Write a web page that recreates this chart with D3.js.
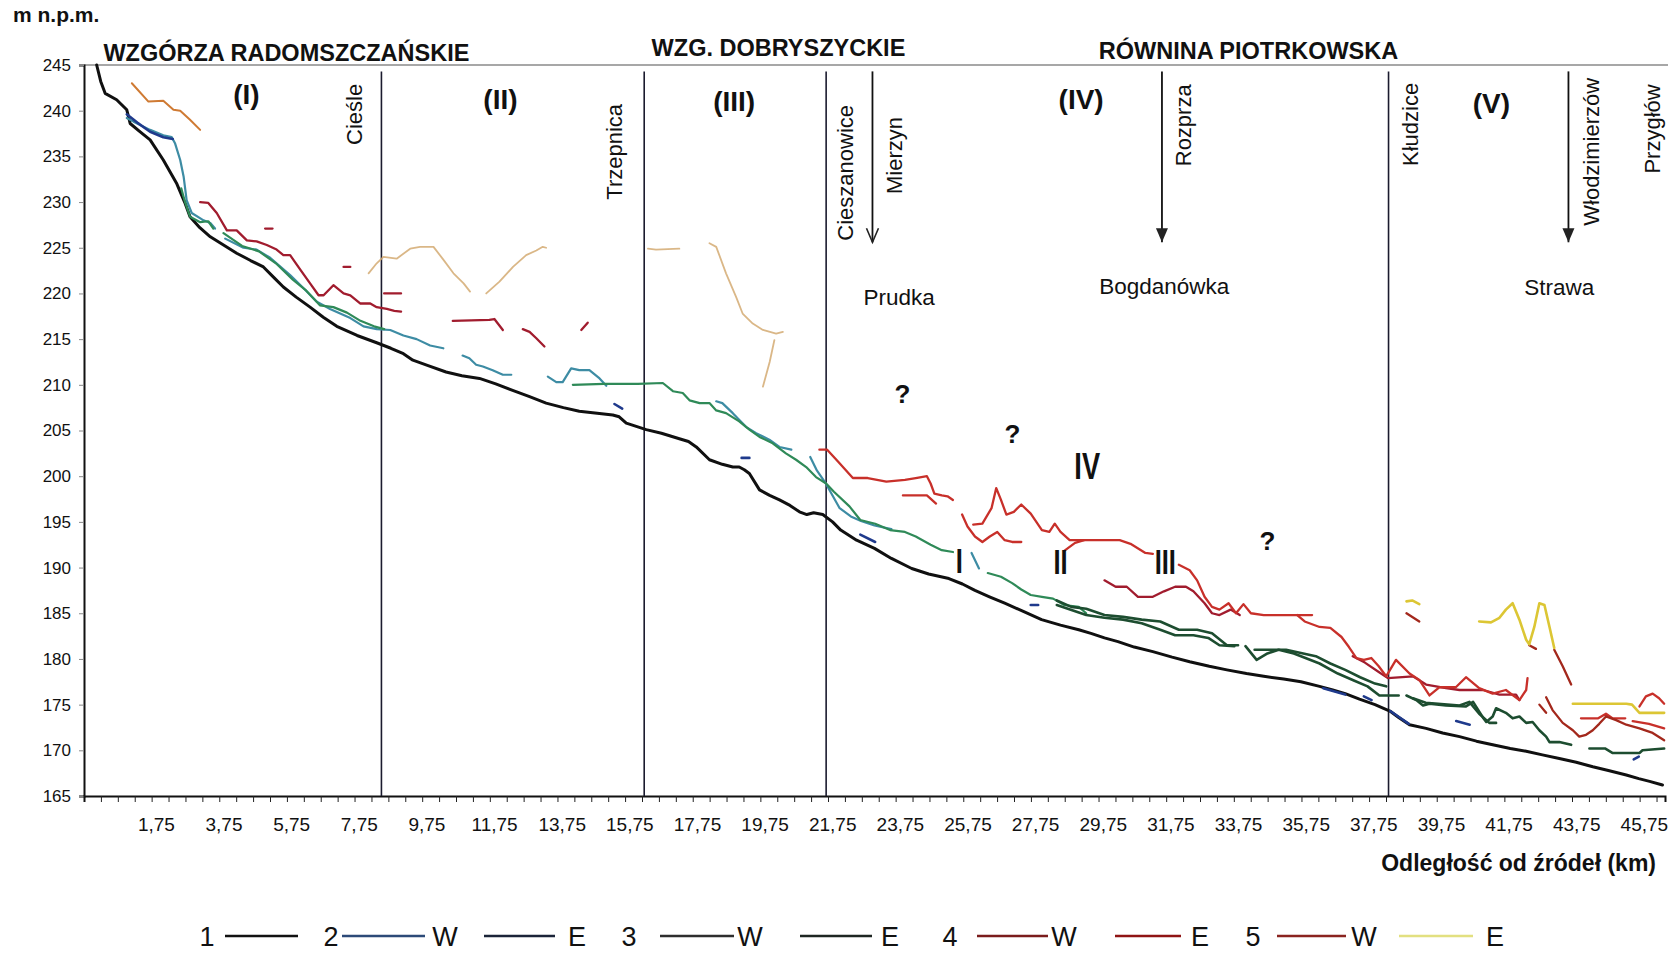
<!DOCTYPE html>
<html>
<head>
<meta charset="utf-8">
<script src="https://cdn.jsdelivr.net/npm/d3@7"></script>
<style>
  body { margin: 0; background: #fff; }
  svg { display: block; }
  text { font-family: "Liberation Sans", Arial, sans-serif; fill: #111; }
</style>
</head>
<body>
<svg id="chart" width="1668" height="953"></svg>
<script>
// ---- Axis ticks ----------------------------------------------------------
const yTicks = [165, 170, 175, 180, 185, 190, 195, 200, 205, 210, 215, 220, 225, 230, 235, 240, 245];
const xTickValues = [1.75, 3.75, 5.75, 7.75, 9.75, 11.75, 13.75, 15.75, 17.75, 19.75, 21.75, 23.75,
                     25.75, 27.75, 29.75, 31.75, 33.75, 35.75, 37.75, 39.75, 41.75, 43.75, 45.75];
const xTickLabels = ["1,75", "3,75", "5,75", "7,75", "9,75", "11,75", "13,75", "15,75", "17,75", "19,75",
                     "21,75", "23,75", "25,75", "27,75", "29,75", "31,75", "33,75", "35,75", "37,75",
                     "39,75", "41,75", "43,75", "45,75"];

// ---- 1: river bed profile [km from source, m a.s.l.] ---------------------
const profile = [[0.0,245.0],[0.12,243.2],[0.25,241.9],[0.59,241.2],[0.89,240.1],[0.99,238.6],[1.25,237.8],
  [1.58,236.8],[1.97,234.6],[2.37,232.0],[2.6,230.0],[2.76,228.4],[3.05,227.2],[3.36,226.2],[3.75,225.3],
  [4.14,224.4],[4.55,223.6],[4.93,222.9],[5.25,221.7],[5.52,220.7],[5.9,219.6],[6.31,218.5],[6.7,217.4],
  [7.1,216.4],[7.7,215.4],[8.28,214.6],[8.7,214.0],[9.07,213.4],[9.35,212.7],[9.8,212.1],[10.33,211.4],
  [10.8,211.0],[11.32,210.7],[11.8,210.1],[12.3,209.4],[12.8,208.7],[13.29,208.0],[13.8,207.5],[14.27,207.1],
  [14.8,206.9],[15.26,206.7],[15.45,206.5],[15.66,205.8],[16.25,205.1],[16.7,204.7],[17.23,204.1],[17.5,203.8],
  [17.73,203.2],[18.12,201.8],[18.5,201.3],[18.81,201.0],[19.0,201.0],[19.15,200.7],[19.3,200.3],[19.6,198.5],
  [19.9,197.9],[20.19,197.4],[20.5,196.8],[20.78,196.1],[21.0,195.8],[21.2,196.0],[21.47,195.8],[21.76,195.0],
  [22.0,194.1],[22.47,193.0],[23.0,192.1],[23.5,191.0],[24.1,189.9],[24.6,189.3],[25.2,188.8],[25.6,188.2],
  [25.97,187.5],[26.4,186.8],[26.85,186.1],[27.4,185.2],[27.94,184.3],[28.5,183.7],[29.04,183.2],[29.4,182.8],
  [29.8,182.3],[30.2,181.9],[30.68,181.3],[31.23,180.8],[31.8,180.2],[32.32,179.7],[32.9,179.2],[33.42,178.8],
  [34.0,178.4],[34.51,178.1],[35.1,177.8],[35.61,177.5],[36.16,177.0],[36.55,176.6],[36.92,176.2],[37.34,175.6],
  [37.8,175.0],[38.24,174.3],[38.5,173.6],[38.82,172.8],[39.31,172.4],[39.8,171.9],[40.3,171.5],[40.8,171.0],
  [41.28,170.6],[41.8,170.2],[42.27,169.9],[42.75,169.5],[43.25,169.1],[43.75,168.7],[44.24,168.2],[44.7,167.8],
  [45.23,167.3],[45.6,166.9],[45.92,166.6],[46.3,166.2]];

// ---- 2: floodplain, W and E banks (segments) ------------------------------
const t2W = [
  [[0.89,239.2],[1.09,238.8],[1.58,237.9],[1.97,237.3],[2.22,237.1],[2.32,236.4],[2.47,234.6],[2.57,232.8],
   [2.66,230.2],[2.81,228.8],[3.16,228.0],[3.36,227.7],[3.5,227.1]],
  [[3.8,226.0],[4.34,225.0],[4.73,224.8],[5.13,223.9],[5.72,222.0],[6.11,220.6],[6.51,219.1],[6.9,218.3],
   [7.5,217.3],[7.89,216.4],[8.28,216.1],[8.68,216.0],[9.07,215.4],[9.46,215.0],[9.86,214.3],[10.25,214.0]],
  [[10.82,213.2],[11.02,212.9],[11.22,212.2],[11.42,212.0],[11.71,211.6],[12.01,211.1],[12.26,211.1]],
  [[13.34,210.9],[13.59,210.3],[13.78,210.3],[14.03,211.8],[14.27,211.6],[14.57,211.6],[14.87,210.7],[15.07,209.9]],
  [[18.32,208.2],[18.5,208.0],[18.81,206.9],[19.2,205.4],[19.5,204.7],[19.89,204.0],[20.19,203.2],[20.54,202.9]],
  [[21.1,202.1],[21.3,200.6],[21.56,199.2],[21.97,196.5],[22.3,195.6],[22.6,195.1],[23.0,194.6],[23.5,194.2]],
  [[25.87,191.6],[26.09,189.9]]
];
const t2E = [
  [[0.89,239.6],[1.2,238.7],[1.58,237.7],[1.97,237.1],[2.25,236.9]],
  [[15.31,207.9],[15.54,207.4]],
  [[19.07,202.0],[19.3,202.0]],
  [[22.58,193.6],[23.02,192.8]],
  [[27.62,185.9],[27.84,185.9]],
  [[36.27,176.8],[36.92,176.1]],
  [[37.47,175.9],[37.7,175.5]],
  [[38.25,174.3],[38.8,172.9]],
  [[40.2,173.2],[40.6,172.8]],
  [[45.45,169.0],[45.6,169.3]]
];

// ---- 3: terrace 3, W and E banks ----------------------------------------
const t3W = [
  [[2.5,231.5],[2.62,229.9],[2.76,228.4],[3.06,227.8],[3.3,227.9],[3.45,227.1]],
  [[3.75,226.6],[4.3,225.2],[4.8,224.6],[5.3,223.3],[5.8,221.5],[6.2,220.3],[6.6,218.7],[7.0,218.5],
   [7.4,217.9],[7.8,217.0],[8.2,216.4],[8.5,216.1]],
  [[14.08,210.0],[15.0,210.1],[16.0,210.1],[16.74,210.2],[17.04,209.3],[17.33,209.1],[17.53,208.3],[17.83,208.0],
   [18.12,208.0],[18.32,207.2],[18.61,206.9],[19.0,206.0],[19.3,205.1],[19.6,204.3],[19.99,203.6],[20.38,202.5],
   [20.68,201.8],[20.98,201.0],[21.27,199.9],[21.57,199.2],[21.8,198.3],[22.26,196.7],[22.58,195.2],[23.02,194.8],
   [23.46,194.1],[23.9,193.9],[24.22,193.4],[24.66,192.5],[24.99,191.9],[25.32,191.7]],
  [[26.35,189.4],[26.74,189.0],[27.07,188.3],[27.34,187.6],[27.62,187.0],[27.95,186.8],[28.28,186.6],[28.61,185.9],
   [29.04,185.7],[29.26,185.0]]
];
const t3E = [
  [[28.39,186.4],[28.82,185.7],[29.26,185.5],[29.8,184.8],[30.35,184.6],[30.9,184.3],[31.45,184.1],[32.0,183.2],
   [32.54,183.2],[32.98,182.8],[33.42,181.5],[33.75,181.5]],
  [[28.39,185.9],[29.26,184.8],[29.8,184.5],[30.35,184.3],[30.9,183.9],[31.45,183.2],[31.89,182.6],[32.43,182.6],
   [32.87,182.3],[33.2,181.5],[33.64,181.4]],
  [[33.97,181.4],[34.3,179.9],[34.62,180.6],[34.95,181.0],[35.4,180.6],[35.61,180.3],[36.16,179.5],[36.7,178.4],
   [37.14,177.7],[37.58,177.0],[37.93,176.0],[38.5,176.0]],
  [[34.24,181.0],[35.17,181.0],[36.05,180.3],[36.48,179.5],[36.92,178.8],[37.36,178.0],[37.8,177.3],[38.13,177.0]],
  [[38.73,176.0],[39.02,175.5],[39.22,174.9],[39.41,175.1],[39.9,174.9],[40.49,174.8],[40.7,175.3],[40.99,173.6],
   [41.09,173.1],[41.28,173.7],[41.38,174.6],[41.67,174.1],[41.87,173.5],[42.07,173.7],[42.27,173.0],[42.46,173.1],
   [42.66,172.2],[42.86,171.5],[42.96,170.9],[43.25,170.9],[43.6,170.6]],
  [[38.92,175.7],[39.3,175.2],[40.3,174.9],[40.59,175.3],[40.88,174.0],[41.18,173.0],[41.38,173.0]],
  [[44.14,170.2],[44.6,170.2],[44.83,169.7],[45.62,169.7],[45.71,170.0],[46.35,170.2]]
];

// ---- 4: terrace 4, W and E banks ----------------------------------------
const t4W = [
  [[3.06,230.0],[3.3,229.9],[3.55,228.8],[3.85,226.9],[4.14,226.9],[4.44,225.8],[4.73,225.7],[5.03,225.3],
   [5.32,224.8],[5.52,224.2],[5.72,224.2],[6.02,222.6],[6.31,221.1],[6.56,219.8],[6.71,219.8],[7.0,220.9],
   [7.3,220.0],[7.5,219.8],[7.79,218.9],[8.09,218.9],[8.28,218.5],[8.58,218.3],[8.8,218.1],[9.0,218.0]],
  [[4.98,227.1],[5.2,227.1]],
  [[7.3,222.9],[7.5,222.9]],
  [[8.5,220.0],[9.0,220.0]],
  [[10.53,217.0],[11.61,217.1],[11.76,217.2],[12.01,216.0]],
  [[12.6,216.1],[12.8,215.8],[13.0,215.1],[13.24,214.2]],
  [[14.33,216.0],[14.52,216.8]],
  [[29.8,188.6],[30.13,187.9],[30.46,187.9],[30.79,186.8],[31.23,186.8],[31.56,187.4],[31.89,187.9],[32.21,187.9],
   [32.43,187.4],[32.76,186.1],[32.98,185.0],[33.2,184.8],[33.53,185.4],[33.8,184.8]],
  [[37.14,180.3],[37.5,179.6],[37.9,178.6],[38.18,177.9],[38.92,178.1],[39.31,177.2],[39.9,176.8],[40.3,176.6],
   [40.99,176.6],[41.48,176.1],[41.97,176.1],[42.07,175.5]]
];
const t4E = [
  [[21.37,202.9],[21.6,202.9],[21.92,201.6],[22.36,199.8],[22.8,199.8],[23.35,199.4],[23.9,199.6],[24.22,199.8],
   [24.55,200.0],[24.66,199.2],[24.77,198.1],[24.99,197.9],[25.16,197.8],[25.32,197.4]],
  [[23.84,197.9],[24.55,197.9],[24.82,197.0]],
  [[25.59,195.8],[25.75,194.5],[25.97,193.4],[26.19,192.8],[26.41,193.4],[26.63,193.9],[26.85,193.0],[27.07,192.8],
   [27.34,192.8]],
  [[25.92,194.7],[26.19,194.8],[26.46,196.5],[26.6,198.7],[26.74,197.4],[26.9,195.8],[27.12,196.1],[27.34,196.9],
   [27.62,195.9],[27.95,194.1],[28.17,193.9],[28.33,194.8],[28.5,193.9],[28.77,193.0],[29.26,193.0],[30.25,193.0],
   [30.57,192.6],[31.01,191.6],[31.23,191.5]],
  [[32.0,190.3],[32.32,189.7],[32.54,188.6],[32.76,186.8],[32.98,185.7],[33.2,185.4],[33.47,186.1],[33.69,185.0],
   [33.91,186.0],[34.13,185.0],[34.51,184.8],[35.5,184.8],[35.94,184.8]],
  [[35.5,184.8],[35.72,184.1],[36.16,183.5],[36.48,183.4],[36.81,182.4],[37.03,181.3],[37.25,180.1],[37.47,179.9],
   [37.69,180.1],[37.91,179.2],[38.13,178.1],[38.42,179.9],[38.82,178.4],[39.11,177.7],[39.41,176.0],[39.7,176.9],
   [40.19,176.9],[40.49,178.0],[40.88,176.8],[41.28,176.2],[41.67,176.6],[42.07,175.5],[42.27,176.6],[42.31,177.9]],
  [[28.6,191.8],[28.93,192.7],[29.2,193.0]],
  [[43.89,173.5],[44.4,173.5],[44.63,174.0],[44.83,173.5],[45.2,173.5]],
  [[45.42,173.2],[45.9,172.9],[46.35,172.4]],
  [[45.62,174.8],[45.81,175.9],[46.01,176.2],[46.2,175.7],[46.35,175.1]]
];

// ---- 5: terrace 5, W and E banks ----------------------------------------
const t5W_upper = [
  [[1.04,243.0],[1.53,241.0],[1.97,241.1],[2.27,240.1],[2.47,240.0],[2.76,239.0],[3.06,237.9]]
];
const t5W = [
  [[38.73,185.0],[39.11,184.1]],
  [[42.36,181.5],[42.56,181.1]],
  [[43.1,181.0],[43.35,179.2],[43.6,177.2]],
  [[42.66,175.0],[42.86,174.1]],
  [[42.86,175.8],[43.05,174.4],[43.35,173.0],[43.65,172.2],[43.84,171.5],[44.04,171.7],[44.24,172.2],[44.43,172.9],
   [44.63,173.7],[44.93,173.3],[45.23,172.8],[45.62,172.4],[46.01,171.9],[46.35,171.1]]
];
const t5E_upper = [
  [[8.04,222.2],[8.28,223.3],[8.48,224.0],[8.87,223.8],[9.27,224.9],[9.56,225.1],[9.96,225.1],[10.25,223.7],
   [10.55,222.2],[10.85,221.1],[11.04,220.2]],
  [[11.52,220.0],[11.91,221.3],[12.31,222.9],[12.7,224.2],[13.0,224.7],[13.19,225.1],[13.29,225.0]],
  [[16.3,224.9],[16.54,224.8],[17.23,224.9]],
  [[18.12,225.5],[18.32,225.1],[18.61,222.2],[18.91,219.6],[19.1,217.8],[19.4,216.7],[19.7,216.0],[20.09,215.6],
   [20.29,215.8]],
  [[20.04,214.9],[19.9,212.5],[19.7,209.8]]
];
const t5E = [
  [[38.73,186.3],[38.9,186.4],[39.11,186.0]],
  [[40.88,184.1],[41.23,184.0],[41.48,184.5],[41.67,185.4],[41.87,186.1],[42.07,184.3],[42.27,182.1],[42.36,181.6],
   [42.51,183.5],[42.66,186.1],[42.81,185.9],[42.96,183.5],[43.1,181.2]],
  [[43.65,175.1],[45.23,175.1],[45.4,175.0],[45.62,174.1],[46.35,174.1]]
];

// ---- Section boundaries, tributaries and place names ---------------------
const boundaries = [8.42, 16.19, 21.57, 38.2];
const sectionNames = ["(I)", "(II)", "(III)", "(IV)", "(V)"];
const sectionKm = [4.43, 11.94, 18.85, 29.11, 41.24];
const regionNames = ["WZGÓRZA RADOMSZCZAŃSKIE", "WZG. DOBRYSZYCKIE", "RÓWNINA PIOTRKOWSKA"];
const regionKm = [5.61, 20.16, 34.06];
const villages = ["Cieśle", "Trzepnica", "Cieszanowice", "Mierzyn", "Rozprza", "Kłudzice", "Włodzimierzów", "Przygłów"];
const villageKm = [7.62, 15.31, 22.14, 23.59, 32.11, 38.85, 44.18, 45.98];
const villageElev = [239.6, 235.5, 233.2, 235.1, 238.4, 238.5, 235.5, 238.0];
const tributaries = ["Prudka", "Bogdanówka", "Strawa"];
const tributaryKm = [22.94, 31.5, 43.52];
const tributaryLabelKm = [23.73, 31.57, 43.25];
const terraceMarks = ["I", "II", "III", "IV"];
const terraceMarkKm = [25.51, 28.5, 31.6, 29.29];
const terraceMarkElev = [190.8, 190.7, 190.7, 201.1];
const queryKm = [23.83, 27.08, 34.62];
const queryElev = [209.0, 204.7, 193.0];

// ---- Drawing -------------------------------------------------------------
const svg = d3.select("#chart");
const x = d3.scaleLinear().domain([-0.375, 46.375]).range([84, 1665]);
const y = d3.scaleLinear().domain([165, 245]).range([796, 65]);
const line = d3.line().x(d => x(d[0])).y(d => y(d[1]));
const FONT = '"Liberation Sans", Arial, sans-serif';

// top frame line
svg.append("line").attr("x1", x(-0.375)).attr("x2", 1668).attr("y1", y(245)).attr("y2", y(245))
  .attr("stroke", "#8a8a8a").attr("stroke-width", 1.5);

// y axis
const yAxis = svg.append("g").attr("transform", `translate(${x(-0.375)},0)`)
  .call(d3.axisLeft(y).tickValues(yTicks).tickSize(5).tickPadding(8).tickFormat(d3.format("d")));
yAxis.select(".domain").attr("stroke", "#111").attr("stroke-width", 2);
yAxis.selectAll(".tick line").attr("stroke", "#888");
yAxis.selectAll(".tick text").style("font-size", "17px").attr("fill", "#111").style("font-family", FONT);

// x axis: minor ticks between categories, labels every 2 km
const minorTicks = d3.range(0.125, 46.2, 0.5);
const xMinor = svg.append("g").attr("transform", `translate(0,${y(165)})`)
  .call(d3.axisBottom(x).tickValues(minorTicks).tickSize(6).tickFormat(""));
xMinor.select(".domain").attr("stroke", "#111").attr("stroke-width", 2);
xMinor.selectAll(".tick line").attr("stroke", "#222");
const xLab = svg.append("g").attr("transform", `translate(0,${y(165)})`)
  .call(d3.axisBottom(x).tickValues(xTickValues).tickSize(0).tickPadding(22)
        .tickFormat((d, i) => xTickLabels[i]));
xLab.select(".domain").remove();
xLab.selectAll(".tick text").style("font-size", "19px").attr("fill", "#111").style("font-family", FONT);

// section boundaries
svg.append("g").selectAll("line").data(boundaries).join("line")
  .attr("x1", d => x(d)).attr("x2", d => x(d)).attr("y1", y(244.3)).attr("y2", y(165))
  .attr("stroke", "#1b1b2e").attr("stroke-width", 1.6);

// terrace series
function drawSeries(segs, color, width, opacity) {
  svg.append("g").selectAll("path").data(segs).join("path")
    .attr("d", line).attr("fill", "none").attr("stroke", color)
    .attr("stroke-width", width).attr("stroke-linejoin", "round").attr("stroke-linecap", "round")
    .attr("opacity", opacity || 1);
}
drawSeries([profile], "#101010", 3);
drawSeries(t5E_upper, "#d4aa72", 1.8, 0.85);
drawSeries(t5W_upper, "#cf7a33", 2);
drawSeries(t2W, "#3d8ca4", 2.2);
drawSeries(t3W, "#2f8a58", 2.2);
drawSeries(t3E, "#1d4d30", 2.6);
drawSeries(t2E, "#1f3a8c", 2.6);
drawSeries(t4W, "#a11c2e", 2.3);
drawSeries(t4E, "#c8302a", 2.3);
drawSeries(t5W, "#a3281c", 2.3);
drawSeries(t5E, "#dcc634", 2.6);

// tributary arrows
tributaryKm.forEach((km, i) => {
  const xx = x(km), y0 = y(244.3), y1 = y(225.6);
  svg.append("line").attr("x1", xx).attr("x2", xx).attr("y1", y0).attr("y2", y1)
    .attr("stroke", "#111").attr("stroke-width", 1.8);
  if (i === 0) {
    svg.append("path").attr("d", `M${xx - 6},${y1 - 14} L${xx},${y1} L${xx + 6},${y1 - 14}`)
      .attr("fill", "none").attr("stroke", "#222").attr("stroke-width", 1.6);
  } else {
    svg.append("path").attr("d", `M${xx - 6},${y1 - 14} L${xx + 6},${y1 - 14} L${xx},${y1} Z`)
      .attr("fill", "#222");
  }
});

// region names above the frame
svg.append("g").selectAll("text").data(regionNames).join("text")
  .attr("x", (d, i) => x(regionKm[i])).attr("y", (d, i) => [61, 56, 59][i])
  .attr("text-anchor", "middle").style("font-size", "23.5px").style("font-weight", "bold").text(d => d);

// section numbers
svg.append("g").selectAll("text").data(sectionNames).join("text")
  .attr("x", (d, i) => x(sectionKm[i])).attr("y", (d, i) => y([241.8, 241.3, 241.05, 241.3, 240.8][i]))
  .attr("dy", "0.36em").attr("text-anchor", "middle")
  .style("font-size", "28px").style("font-weight", "bold").text(d => d);

// village names, vertical
svg.append("g").selectAll("text").data(villages).join("text")
  .attr("transform", (d, i) => `translate(${x(villageKm[i])},${y(villageElev[i])}) rotate(-90)`)
  .attr("dy", "0.36em").attr("text-anchor", "middle").style("font-size", "22px")
  .attr("fill", d => d === "Mierzyn" ? "#444" : "#111").text(d => d);

// tributary names
svg.append("g").selectAll("text").data(tributaries).join("text")
  .attr("x", (d, i) => x(tributaryLabelKm[i])).attr("y", (d, i) => y([219.6, 220.8, 220.7][i]))
  .attr("dy", "0.36em").attr("text-anchor", "middle").style("font-size", "22.5px").text(d => d);

// terrace level marks and question marks
svg.append("g").selectAll("text").data(terraceMarks).join("text")
  .attr("x", (d, i) => x(terraceMarkKm[i])).attr("y", (d, i) => y(terraceMarkElev[i]))
  .attr("dy", "0.36em").attr("text-anchor", "middle")
  .style("font-size", d => d === "IV" ? "32px" : "30px").style("font-weight", "bold")
  .attr("transform", (d, i) => `translate(${x(terraceMarkKm[i])},${y(terraceMarkElev[i])}) scale(0.85,1.15) translate(${-x(terraceMarkKm[i])},${-y(terraceMarkElev[i])})`)
  .text(d => d);
svg.append("g").selectAll("text").data(queryKm).join("text")
  .attr("x", d => x(d)).attr("y", (d, i) => y(queryElev[i])).attr("dy", "0.36em")
  .attr("text-anchor", "middle").style("font-size", "26px").style("font-weight", "bold")
  .attr("fill", "#333").text("?");

// axis titles
svg.append("text").attr("x", 13).attr("y", 22).style("font-size", "21px").style("font-weight", "bold")
  .text("m n.p.m.");
svg.append("text").attr("x", 1656).attr("y", 871).attr("text-anchor", "end")
  .style("font-size", "23px").style("font-weight", "bold").text("Odległość od źródeł (km)");

// legend
const legendY = 936;
const legendText = [["1", 207], ["2", 331], ["W", 445], ["E", 577], ["3", 629], ["W", 750], ["E", 890],
                    ["4", 950], ["W", 1064], ["E", 1200], ["5", 1253], ["W", 1364], ["E", 1495]];
const legendLines = [[225, 298, "#111"], [342, 425, "#2c4a78"], [484, 555, "#1b2438"], [660, 734, "#2e2e2e"],
                     [800, 872, "#1e2622"], [977, 1048, "#7a1c1c"], [1115, 1181, "#8f1414"],
                     [1277, 1346, "#8a2420"], [1399, 1473, "#e2e080"]];
svg.append("g").selectAll("line").data(legendLines).join("line")
  .attr("x1", d => d[0]).attr("x2", d => d[1]).attr("y1", legendY).attr("y2", legendY)
  .attr("stroke", d => d[2]).attr("stroke-width", 2.4);
svg.append("g").selectAll("text").data(legendText).join("text")
  .attr("x", d => d[1]).attr("y", 946).attr("text-anchor", "middle")
  .style("font-size", "27px").text(d => d[0]);
</script>
</body>
</html>
